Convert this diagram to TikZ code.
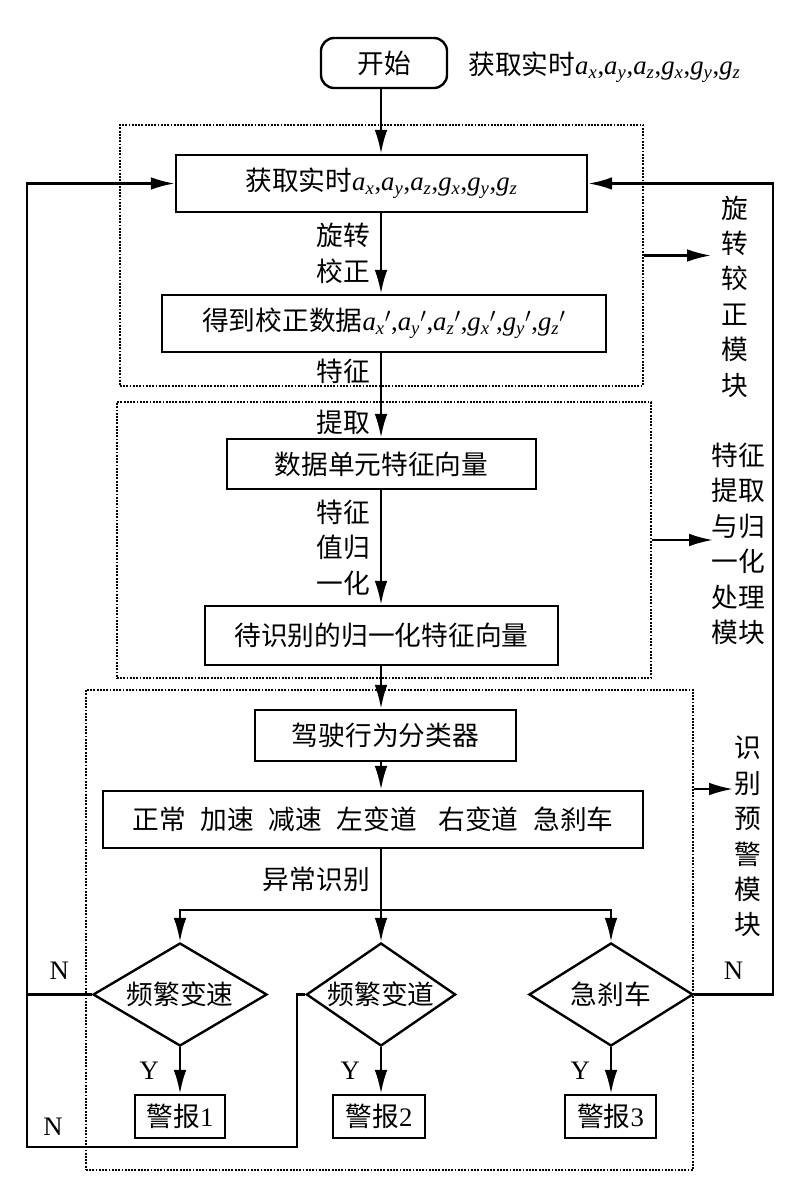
\documentclass[tikz,border=0pt]{standalone}
\usepackage{fontspec}
\setmainfont{Liberation Serif}
\newfontfamily\cjk{Noto Sans CJK SC}
\usetikzlibrary{arrows.meta,shapes.geometric}
\newcommand\vsub[2]{\textit{#1}\textsubscript{\textit{#2}}}
\newcommand\rawdata{{\rmfamily\vsub{a}{x},\vsub{a}{y},\vsub{a}{z},\vsub{g}{x},\vsub{g}{y},\vsub{g}{z}}}
\newcommand\fixdata{{\rmfamily\vsub{a}{x}$'$,\vsub{a}{y}$'$,\vsub{a}{z}$'$,\vsub{g}{x}$'$,\vsub{g}{y}$'$,\vsub{g}{z}$'$}}
\begin{document}
\begin{tikzpicture}
			[x=0.025cm,y=-0.025cm,
			txt/.style={font=\cjk\fontsize{19}{25.2}\selectfont,inner sep=0pt},
			box/.style={txt,draw,line width=1.7pt},
			start/.style={box,rounded corners=0.33cm,minimum width=3.15cm,minimum height=1.25cm},
			dia/.style={txt,diamond,draw,line width=1.7pt,aspect=1.7,minimum height=2.575cm},
			module/.style={draw,densely dotted,line width=1.3pt},
			mlbl/.style={txt,align=center},
			lbl/.style={txt,align=right,left=0.25cm},
			yn/.style={font=\fontsize{19}{22}\selectfont,inner sep=0pt},
			line/.style={line width=1.7pt},
			>={Latex[length=17pt,width=9pt]}]
			\useasboundingbox (0,0) rectangle (800,1200);
			% modules
			\node[module,minimum width=13.075cm,minimum height=6.525cm,name=m1]at(381.5,255.5){};
			\node[module,minimum width=13.35cm,minimum height=6.9cm,name=m2]at(384,540){};
			\node[module,minimum width=15.175cm,minimum height=12cm,name=m3]at(389.5,930){};
			\node[mlbl,name=m1lbl]at(735,296.5){旋\\转\\较\\正\\模\\块};
			\node[mlbl,name=m2lbl]at(738,544){特征\\提取\\与归\\一化\\处理\\模块};
			\node[mlbl,name=m3lbl]at(748,836.5){识\\别\\预\\警\\模\\块};
			\coordinate (m1tip) at (711,255.5);
			\coordinate (m2tip) at (713,540);
			\coordinate (m3tip) at (733,789);
			\draw[->,line](m1.east)--(m1tip);
			\draw[->,line](m2.east)--(m2tip);
			\draw[->,line](m3.east|-m3tip)--(m3tip);
			% main column
			\node[start,name=st]at(384,63){开始};
			\node[txt,anchor=west,name=stlbl]at(468,67){获取实时\rawdata};
			\node[box,minimum width=10.275cm,minimum height=1.425cm,name=b1]at(381.5,183.5){获取实时\rawdata};
			\node[box,minimum width=11.1cm,minimum height=1.425cm,name=b2]at(384,323.5){得到校正数据\fixdata};
			\node[box,minimum width=7.725cm,minimum height=1.25cm,name=b3]at(381.5,464){数据单元特征向量};
			\node[box,minimum width=8.825cm,minimum height=1.475cm,name=b4]at(381.5,635.5){待识别的归一化特征向量};
			\node[box,minimum width=6.525cm,minimum height=1.275cm,name=b5]at(385.5,735.5){驾驶行为分类器};
			\node[box,minimum width=13.5cm,minimum height=1.425cm,name=b6]at(373,819.5){正常\hspace{0.55em}加速\hspace{0.55em}减速\hspace{0.55em}左变道\hspace{0.8em}右变道\hspace{0.55em}急刹车};
			\coordinate (col) at (381,0);
			\draw[->,line](col|-st.south)--(col|-b1.north);
			\draw[->,line](col|-b1.south)--node[lbl]{旋转\\校正}(col|-b2.north);
			\draw[->,line](col|-b2.south)--node[lbl,pos=0.21]{特征}node[lbl,pos=0.82]{提取}(col|-b3.north);
			\draw[->,line](col|-b3.south)--node[lbl]{特征\\值归\\一化}(col|-b4.north);
			\draw[->,line](col|-b4.south)--(col|-b5.north);
			\draw[->,line](col|-b5.south)--(col|-b6.north);
			% decisions
			\node[dia,minimum width=4.35cm,name=d1]at(180,994.5){频繁变速};
			\node[dia,minimum width=3.7cm,name=d2]at(381,994.5){频繁变道};
			\node[dia,minimum width=4.1cm,name=d3]at(611,994.5){急刹车};
			\coordinate (br) at (381,910);
			\draw[line](col|-b6.south)--node[lbl]{异常识别}(br);
			\draw[->,line](br)--(d2.north);
			\draw[->,line](br)-|(d1.north);
			\draw[->,line](br)-|(d3.north);
			\node[box,minimum width=2.25cm,minimum height=1.075cm,name=a1]at(180,1116.5){警报{\rmfamily 1}};
			\node[box,minimum width=2.3cm,minimum height=1.075cm,name=a2]at(379,1116.5){警报{\rmfamily 2}};
			\node[box,minimum width=2.275cm,minimum height=1.075cm,name=a3]at(610.5,1116.5){警报{\rmfamily 3}};
			\draw[->,line](d1.south)--node[yn,left=0.5cm]{Y}(d1.south|-a1.north);
			\draw[->,line](d2.south)--node[yn,left=0.5cm]{Y}(d2.south|-a2.north);
			\draw[->,line](d3.south)--node[yn,left=0.5cm]{Y}(d3.south|-a3.north);
			% feedback
			\coordinate (fbL) at (27,1147);
			\coordinate (fbR) at (773,994.5);
			\draw[->,line](d2.west)--++(-8,0)|-(fbL)|-(b1.west);
			\draw[line](d1.west)--node[yn,above=0.35cm]{N}(d1.west-|fbL);
			\node[yn,name=nbot]at(53,1127){N};
			\draw[->,line](d3.east)--node[yn,above=0.35cm]{N}(fbR)|-(b1.east);
		\end{tikzpicture}
\end{document}
